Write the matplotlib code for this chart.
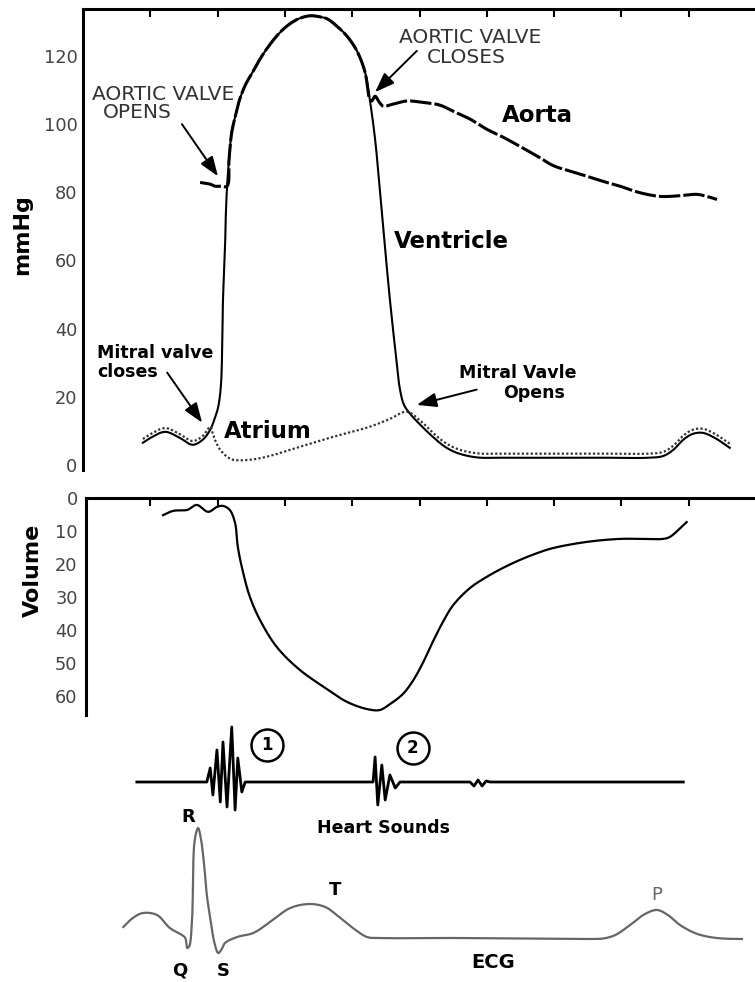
import numpy as np
import matplotlib.pyplot as plt

plt.rcParams['font.family'] = ['DejaVu Sans']

# time axis in seconds, one tick every 0.1 s
vent_t = [0.089, 0.100, 0.122, 0.144, 0.163, 0.178, 0.189, 0.196, 0.201, 0.205,
          0.207, 0.208, 0.211, 0.212, 0.214, 0.217, 0.221, 0.227, 0.233, 0.242,
          0.253, 0.263, 0.273, 0.288, 0.303, 0.320, 0.337, 0.352, 0.363, 0.377,
          0.392, 0.407, 0.419, 0.426, 0.434, 0.441, 0.449, 0.456, 0.464, 0.471,
          0.477, 0.486, 0.501, 0.520, 0.538, 0.556, 0.585, 0.620, 0.700, 0.780,
          0.840, 0.862, 0.877, 0.892, 0.906, 0.921, 0.939, 0.961]
vent_p = [6.5, 7.9, 9.7, 7.9, 5.9, 7.4, 10.3, 13.8, 17.1, 23.5,
          36.8, 48.5, 63.2, 72.1, 81.5, 89.7, 97.6, 102.9, 107.4, 111.8,
          115.6, 119.1, 122.1, 125.9, 128.8, 130.9, 131.8, 131.5, 130.9, 128.8,
          125.9, 121.5, 115.3, 107.4, 95.6, 80.9, 63.2, 48.5, 33.8, 22.1,
          17.6, 15.0, 11.8, 8.2, 5.3, 3.5, 2.2, 2.1, 2.1, 2.1,
          2.1, 2.6, 4.4, 7.4, 9.1, 9.4, 7.9, 5.0]

aorta_t = [0.174, 0.189, 0.196, 0.204, 0.214, 0.217, 0.221, 0.227, 0.233, 0.242,
           0.253, 0.263, 0.273, 0.288, 0.303, 0.320, 0.337, 0.352, 0.363, 0.377,
           0.392, 0.407, 0.419, 0.426, 0.429, 0.434, 0.440, 0.446, 0.461, 0.481,
           0.501, 0.530, 0.550, 0.575, 0.600, 0.624, 0.649, 0.675, 0.698, 0.724,
           0.749, 0.773, 0.798, 0.820, 0.838, 0.857, 0.872, 0.892, 0.912, 0.927,
           0.942]
aorta_p = [82.9, 82.4, 81.8, 81.8, 81.8, 89.7, 97.6, 102.9, 107.4, 111.8,
           115.6, 119.1, 122.1, 125.9, 128.8, 130.9, 131.8, 131.5, 130.9, 128.8,
           125.9, 121.5, 115.3, 107.4, 106.8, 108.2, 106.5, 105.3, 105.9, 106.8,
           106.5, 105.6, 103.8, 101.5, 98.5, 96.2, 93.5, 90.6, 87.9, 86.2,
           84.7, 83.2, 81.8, 80.3, 79.4, 78.8, 78.8, 79.1, 79.4, 78.8,
           77.9]

atrium_t = [0.089, 0.100, 0.122, 0.144, 0.163, 0.178, 0.189, 0.192, 0.196, 0.204,
            0.214, 0.223, 0.248, 0.273, 0.322, 0.371, 0.426, 0.456, 0.481, 0.501,
            0.520, 0.538, 0.556, 0.585, 0.620, 0.700, 0.780, 0.840, 0.862, 0.877,
            0.892, 0.906, 0.921, 0.939, 0.961]
atrium_p = [7.6, 9.0, 10.8, 9.0, 7.0, 8.5, 11.2, 9.7, 7.4, 4.4,
            2.4, 1.5, 1.5, 2.4, 5.3, 8.2, 11.2, 13.5, 15.6, 13.0,
            9.4, 6.5, 4.7, 3.4, 3.3, 3.3, 3.3, 3.3, 3.8, 5.6,
            8.6, 10.3, 10.6, 9.1, 6.2]

# ventricular volume (mL below the top line)
vol_t = [0.119, 0.134, 0.155, 0.169, 0.186, 0.199, 0.208, 0.218, 0.226, 0.230,
         0.238, 0.248, 0.263, 0.288, 0.322, 0.363, 0.392, 0.422, 0.441, 0.456,
         0.475, 0.490, 0.505, 0.520, 0.535, 0.550, 0.575, 0.600, 0.624, 0.649,
         0.675, 0.698, 0.749, 0.798, 0.830, 0.862, 0.872, 0.897]
vol_v = [5.2, 3.9, 3.6, 2.1, 4.2, 2.7, 2.4, 3.6, 7.6, 14.8,
         22.7, 30.0, 37.0, 45.2, 52.1, 58.0, 61.8, 64.0, 64.3, 62.5,
         59.5, 55.5, 50.0, 43.5, 37.5, 32.5, 27.3, 23.9, 21.2, 18.8,
         16.7, 15.2, 13.3, 12.4, 12.4, 12.4, 11.8, 7.3]

# phonocardiogram, arbitrary units
snd_t = [0.080, 0.184, 0.189, 0.193, 0.199, 0.204, 0.208, 0.214, 0.221, 0.226,
         0.230, 0.236, 0.241, 0.431, 0.434, 0.438, 0.444, 0.449, 0.456, 0.464,
         0.471, 0.575, 0.581, 0.587, 0.593, 0.599, 0.605, 0.892]
snd_a = [0, 0, 1.4, -1.3, 3.2, -2.0, 4.0, -2.5, 5.5, -2.8,
         2.4, -1.0, 0, 0, 2.5, -2.3, 1.7, -1.8, 0.7, -0.6,
         0, 0, -0.4, 0.2, -0.4, 0.1, 0, 0]

# ECG, arbitrary mV
ecg_t = [0.060, 0.074, 0.089, 0.110, 0.129, 0.147, 0.152, 0.155, 0.158, 0.162,
         0.166, 0.171, 0.175, 0.180, 0.184, 0.189, 0.195, 0.201, 0.207, 0.211,
         0.229, 0.253, 0.278, 0.308, 0.337, 0.360, 0.377, 0.401, 0.422, 0.440,
         0.550, 0.650, 0.750, 0.773, 0.791, 0.813, 0.835, 0.853, 0.869, 0.887,
         0.909, 0.927, 0.950, 0.979]
ecg_e = [0.22, 0.40, 0.50, 0.46, 0.20, 0.06, 0.0, -0.20, -0.16, 0.36,
         1.96, 2.20, 2.00, 1.46, 0.86, 0.40, -0.08, -0.30, -0.20, -0.10,
         0.02, 0.10, 0.32, 0.60, 0.68, 0.62, 0.46, 0.20, 0.02, 0.0,
         0.0, -0.01, -0.02, -0.01, 0.06, 0.26, 0.48, 0.56, 0.46, 0.26,
         0.10, 0.03, -0.01, -0.02]

W, H = 755, 982
XMAX = 0.9985


def box(x0, y0, x1, y1):
    return [x0 / W, 1 - y1 / H, (x1 - x0) / W, (y1 - y0) / H]


def smooth(x, y, sx, sy, n=10):
    # centripetal catmull-rom through the traced points, only for drawing
    P = np.column_stack([np.asarray(x, float) * sx, np.asarray(y, float) * sy])
    P = np.vstack([2 * P[0] - P[1], P, 2 * P[-1] - P[-2]])
    out = []
    for i in range(1, len(P) - 2):
        p0, p1, p2, p3 = P[i - 1], P[i], P[i + 1], P[i + 2]
        t0 = 0.0
        t1 = t0 + max(np.linalg.norm(p1 - p0), 1e-6) ** 0.5
        t2 = t1 + max(np.linalg.norm(p2 - p1), 1e-6) ** 0.5
        t3 = t2 + max(np.linalg.norm(p3 - p2), 1e-6) ** 0.5
        tt = np.linspace(t1, t2, n, endpoint=False)[:, None]
        a1 = (t1 - tt) / (t1 - t0) * p0 + (tt - t0) / (t1 - t0) * p1
        a2 = (t2 - tt) / (t2 - t1) * p1 + (tt - t1) / (t2 - t1) * p2
        a3 = (t3 - tt) / (t3 - t2) * p2 + (tt - t2) / (t3 - t2) * p3
        b1 = (t2 - tt) / (t2 - t0) * a1 + (tt - t0) / (t2 - t0) * a2
        b2 = (t3 - tt) / (t3 - t1) * a2 + (tt - t1) / (t3 - t1) * a3
        out.append((t2 - tt) / (t2 - t1) * b1 + (tt - t1) / (t2 - t1) * b2)
    out.append(P[-2][None, :])
    out = np.vstack(out)
    return out[:, 0] / sx, out[:, 1] / sy


fig = plt.figure(figsize=(W / 100, H / 100), dpi=100)
grey = '#444444'

# ---- pressure panel
ax = fig.add_axes(box(83, 9, 755, 470))
ax.plot(*smooth(vent_t, vent_p, 673, 3.4), color='black', lw=1.5)
ax.plot(*smooth(aorta_t, aorta_p, 673, 3.4), color='black', lw=2.2, linestyle=(0, (7, 1.0)))
ax.plot(*smooth(atrium_t, atrium_p, 673, 3.4), color='#333333', lw=1.6, linestyle=(0, (1, 1)))
ax.set_xlim(0, XMAX)
ax.set_ylim(-1.5, 133.8)
ax.set_xticks(np.arange(0.1, 1.0, 0.1))
ax.set_yticks(range(0, 121, 20))
ax.tick_params(axis='x', top=True, bottom=False, labeltop=False, labelbottom=False,
               direction='in', length=6, width=1.5)
ax.tick_params(axis='y', length=0, pad=4, labelsize=12.8, labelcolor=grey)
for s in ['right', 'bottom']:
    ax.spines[s].set_visible(False)
for s in ['top', 'left']:
    ax.spines[s].set_linewidth(2.2)

arrow = dict(arrowstyle='-|>,head_length=0.6,head_width=0.22', color='black',
             lw=1.4, mutation_scale=20, shrinkA=0, shrinkB=0)
ax.text(0.119, 108.8, 'AORTIC VALVE', ha='center', va='center', fontsize=14.5, color='#333333')
ax.text(0.080, 103.5, 'OPENS', ha='center', va='center', fontsize=14.5, color='#333333')
ax.annotate('', xy=(0.2006, 84.7), xytext=(0.147, 100.0), arrowprops=arrow)
ax.text(0.575, 125.3, 'AORTIC VALVE', ha='center', va='center', fontsize=14.5, color='#333333')
ax.text(0.569, 119.7, 'CLOSES', ha='center', va='center', fontsize=14.5, color='#333333')
ax.annotate('', xy=(0.434, 109.4), xytext=(0.496, 121.5), arrowprops=arrow)
ax.text(0.675, 102.4, 'Aorta', ha='center', va='center', fontsize=16.5, fontweight='bold')
ax.text(0.547, 65.6, 'Ventricle', ha='center', va='center', fontsize=16.5, fontweight='bold')
ax.text(0.275, 9.7, 'Atrium', ha='center', va='center', fontsize=16.5, fontweight='bold')
ax.text(0.021, 32.9, 'Mitral valve', ha='left', va='center', fontsize=12.5, fontweight='bold')
ax.text(0.021, 27.4, 'closes', ha='left', va='center', fontsize=12.5, fontweight='bold')
ax.annotate('', xy=(0.177, 12.4), xytext=(0.125, 27.1), arrowprops=arrow)
ax.text(0.646, 27.1, 'Mitral Vavle', ha='center', va='center', fontsize=12.5, fontweight='bold')
ax.text(0.670, 21.2, 'Opens', ha='center', va='center', fontsize=12.5, fontweight='bold')
ax.annotate('', xy=(0.496, 17.6), xytext=(0.585, 22.1), arrowprops=arrow)
fig.text(22 / W, 1 - 235 / H, 'mmHg', rotation=90, ha='center', va='center',
         fontsize=16, fontweight='bold')

# ---- volume panel
av = fig.add_axes(box(86, 498, 755, 715))
av.plot(*smooth(vol_t, vol_v, 673, 3.3), color='black', lw=1.6)
av.set_xlim(3 / 673, XMAX)
av.set_ylim(65.8, 0)
av.set_xticks(np.arange(0.1, 1.0, 0.1))
av.set_yticks(range(0, 61, 10))
av.tick_params(axis='x', top=True, bottom=False, labeltop=False, labelbottom=False,
               direction='in', length=6, width=1.5)
av.tick_params(axis='y', length=0, pad=6, labelsize=12.8, labelcolor=grey)
for s in ['right', 'bottom']:
    av.spines[s].set_visible(False)
for s in ['top', 'left']:
    av.spines[s].set_linewidth(2.2)
fig.text(33 / W, 1 - 570 / H, 'Volume', rotation=90, ha='center', va='center',
         fontsize=16, fontweight='bold')

# ---- heart sounds
ah = fig.add_axes(box(83, 715, 755, 830))
ah.axis('off')
ah.set_xlim(0, XMAX)
ah.set_ylim(-4.8, 6.7)
ah.plot(snd_t, snd_a, color='black', lw=2.0)
for i, (tx, ty) in enumerate([(0.273, 3.7), (0.490, 3.4)]):
    ah.plot(tx, ty, 'o', ms=23, mfc='white', mec='black', mew=1.8)
    ah.text(tx, ty, str(i + 1), ha='center', va='center', fontsize=12, fontweight='bold')

# ---- ECG
ae = fig.add_axes(box(83, 800, 755, 982))
ae.axis('off')
ae.set_xlim(0, XMAX)
ae.set_ylim(-0.88, 2.76)
ae.plot(*smooth(ecg_t, ecg_e, 673, 50), color='#666666', lw=1.6)
ae.text(0.446, 2.2, 'Heart Sounds', ha='center', va='center', fontsize=12.5, fontweight='bold')
for lab, tx, ty in [('R', 0.156, 2.42), ('Q', 0.144, -0.64), ('S', 0.208, -0.66), ('T', 0.374, 0.96)]:
    ae.text(tx, ty, lab, ha='center', va='center', fontsize=13, fontweight='bold')
ae.text(0.853, 0.86, 'P', ha='center', va='center', fontsize=13, color='#666666')
ae.text(0.609, -0.5, 'ECG', ha='center', va='center', fontsize=14, fontweight='bold')

fig.savefig('out.png', dpi=100)
